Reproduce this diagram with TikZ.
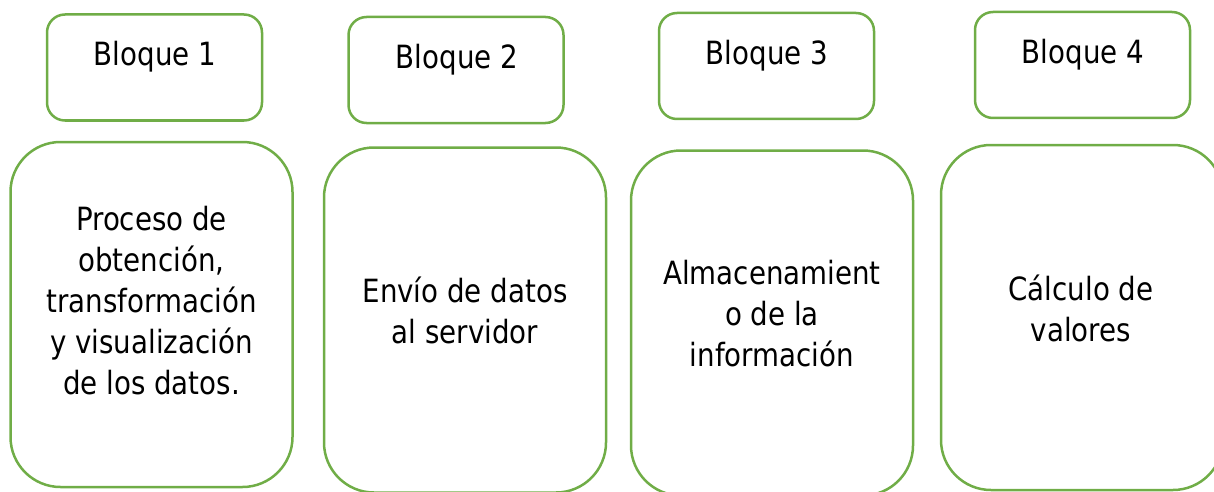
\documentclass[tikz,border=0pt]{standalone}
\usepackage{fontspec}
\setmainfont[FakeStretch=0.865]{DejaVu Sans}
\definecolor{boxgreen}{HTML}{70AD47}
\begin{document}
\begin{tikzpicture}[x=1pt,y=-1pt,
  topbox/.style={draw=boxgreen, line width=2.5pt, rounded corners=18pt, minimum width=215pt, minimum height=106pt, inner sep=0pt},
  bigbox/.style={draw=boxgreen, line width=2.5pt, rounded corners=50pt, minimum width=282pt, minimum height=345pt, inner sep=0pt},
  lbl/.style={font=\fontsize{32}{41}\selectfont, align=center, inner sep=0pt, text=black}]
\useasboundingbox (0,0) rectangle (1214,492);
% top boxes
\node[topbox] (b1) at (154.5,67.5) {};
\node[topbox] (b2) at (456,70) {};
\node[topbox] (b3) at (766.5,66) {};
\node[topbox] (b4) at (1082.5,65) {};
\node[lbl] (l1) at (155,57) {Bloque 1};
\node[lbl] (l2) at (457,60) {Bloque 2};
\node[lbl] (l3) at (767,56) {Bloque 3};
\node[lbl] (l4) at (1083,55) {Bloque 4};
% bottom boxes
\node[bigbox] (c1) at (151.5,314.5) {};
\node[bigbox] (c2) at (465,320) {};
\node[bigbox] (c3) at (772,323) {};
\node[bigbox] (c4) at (1082,317.5) {};
\node[lbl] (t1) at (151.5,301) {Proceso de\\obtención,\\transformación\\y visualización\\de los datos.};
\node[lbl] (t2) at (465,310) {Envío de datos\\al servidor};
\node[lbl] (t3) at (772,314) {Almacenamient\\o de la\\información};
\node[lbl] (t4) at (1081,308.5) {Cálculo de\\valores};
\end{tikzpicture}
\end{document}
